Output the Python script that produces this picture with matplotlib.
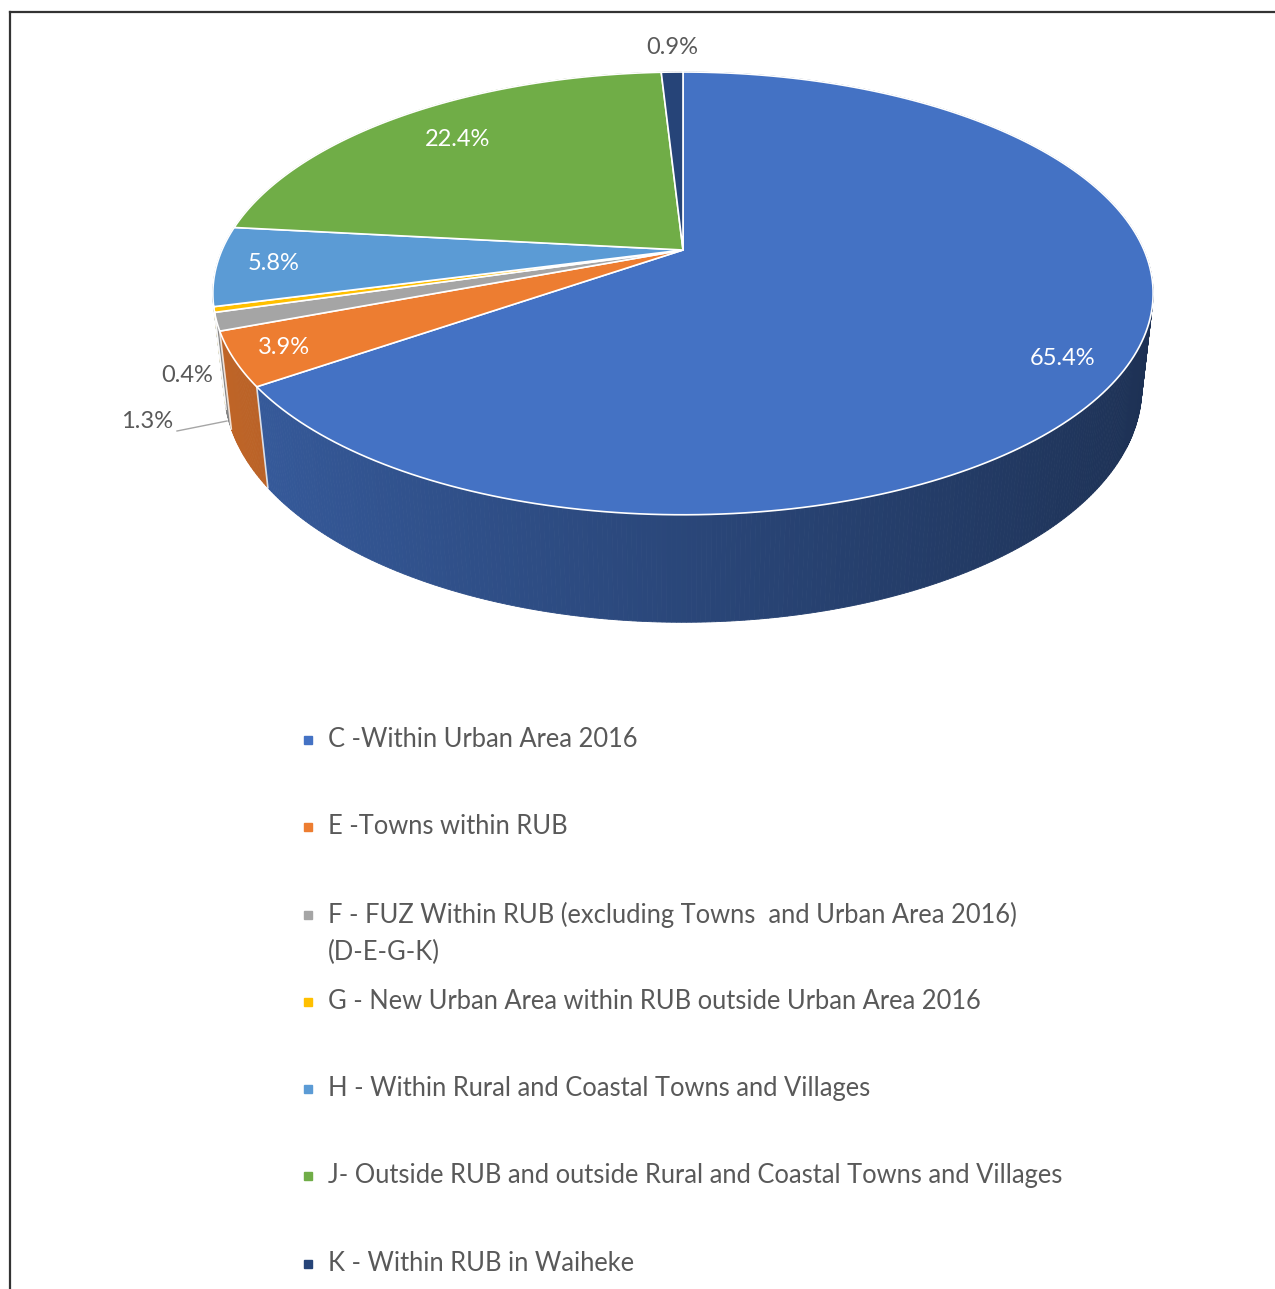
import numpy as np
import matplotlib.pyplot as plt
from matplotlib.patches import Polygon

categories = [
    "C -Within Urban Area 2016",
    "E -Towns within RUB",
    "F - FUZ Within RUB (excluding Towns  and Urban Area 2016)\n(D-E-G-K)",
    "G - New Urban Area within RUB outside Urban Area 2016",
    "H - Within Rural and Coastal Towns and Villages",
    "J- Outside RUB and outside Rural and Coastal Towns and Villages",
    "K - Within RUB in Waiheke",
]
shares = [65.4, 3.9, 1.3, 0.4, 5.8, 22.4, 0.9]
colors = ["#4472C4", "#ED7D31", "#A5A5A5", "#FFC000", "#5B9BD5", "#70AD47", "#264478"]

# view of the 3D disc (pixel axes, y downwards)
ELEV = np.radians(27.5)
DIST = 4.524
THICK = 0.233
SCALE = 461
CX, CY = 683, 250

TEXT = "#595959"
FONT = "Lato"


def project(theta, r=1.0, y=0.0):
    # theta in degrees, clockwise from 12 o'clock
    t = np.radians(theta)
    x = r * np.sin(t)
    z = -r * np.cos(t)
    ys = y * np.cos(ELEV) - z * np.sin(ELEV)
    depth = z * np.cos(ELEV) + y * np.sin(ELEV)
    k = DIST / (DIST - depth)
    return CX + SCALE * x * k, CY - SCALE * ys * k, depth


def shade(color, x):
    rgb = np.array(plt.matplotlib.colors.to_rgb(color))
    f = 0.62 - 0.2 * x
    return np.clip(rgb * f, 0, 1)


fig = plt.figure(figsize=(12.75, 12.89), dpi=100)
ax = fig.add_axes([0, 0, 1, 1])
ax.set_xlim(0, 1275)
ax.set_ylim(1289, 0)
ax.axis("off")

total = sum(shares)
bounds = np.concatenate([[0], np.cumsum(shares)]) / total * 360

# side wall, split into thin strips and painted back to front
strips = []
for i, c in enumerate(colors):
    a0, a1 = bounds[i], bounds[i + 1]
    n = max(2, int((a1 - a0) / 0.5))
    ts = np.linspace(a0, a1, n + 1)
    for t0, t1 in zip(ts[:-1], ts[1:]):
        p = [project(t0), project(t1), project(t1, y=-THICK), project(t0, y=-THICK)]
        d = np.mean([q[2] for q in p])
        xm = np.sin(np.radians((t0 + t1) / 2))
        strips.append((d, [(q[0], q[1]) for q in p], shade(c, xm)))
strips.sort(key=lambda s: s[0])
for d, pts, col in strips:
    ax.add_patch(Polygon(pts, closed=True, facecolor=col, edgecolor=col, lw=0.6))

# white seams where slices meet on the visible wall
for b in bounds[1:-1]:
    if 90 < b < 270:
        x0, y0, _ = project(b)
        x1, y1, _ = project(b, y=-THICK)
        ax.plot([x0, x1], [y0, y1], color="white", lw=1.2, alpha=0.8)

# top face
for i, c in enumerate(colors):
    ts = np.linspace(bounds[i], bounds[i + 1], 200)
    arc = [project(t)[:2] for t in ts]
    ax.add_patch(Polygon([(CX, CY)] + arc, closed=True, facecolor=c,
                         edgecolor="white", lw=1.2))

# data labels: radius along the mid angle plus a small pixel nudge
mids = (bounds[:-1] + bounds[1:]) / 2
inside = {0: (0.86, -2, 16), 1: (0.88, -9, 3), 4: (0.87, -4, 0), 5: (0.78, -3, -2)}
for i, (r, dx, dy) in inside.items():
    x, y, _ = project(mids[i], r=r)
    ax.text(x + dx, y + dy, f"{shares[i]}%", color="white", fontsize=17,
            family=FONT, ha="center", va="center")

x, y, _ = project(mids[6], r=1.17)
ax.text(x + 2, y, f"{shares[6]}%", color=TEXT, fontsize=17, family=FONT,
        ha="center", va="center")
ax.text(187, 376, f"{shares[3]}%", color=TEXT, fontsize=17, family=FONT,
        ha="center", va="center")
ax.text(147, 421, f"{shares[2]}%", color=TEXT, fontsize=17, family=FONT,
        ha="center", va="center")
ax.plot([177, 227], [431, 421], color="#A6A6A6", lw=1)

# legend
ly = 738
for i, (name, c) in enumerate(zip(categories, colors)):
    ax.plot(308, ly + 2, marker="s", ms=6, color=c, mec=c)
    ax.text(328, ly - 11, name, color=TEXT, fontsize=18.4, family=FONT,
            ha="left", va="top", linespacing=1.6)
    ly += 87.3

# frame
ax.plot([10, 10], [1289, 12], color="#333333", lw=1.6, solid_capstyle="projecting")
ax.plot([10, 1275], [12, 12], color="#333333", lw=1.6, solid_capstyle="projecting")

fig.savefig("out.png", dpi=100, facecolor="white")
